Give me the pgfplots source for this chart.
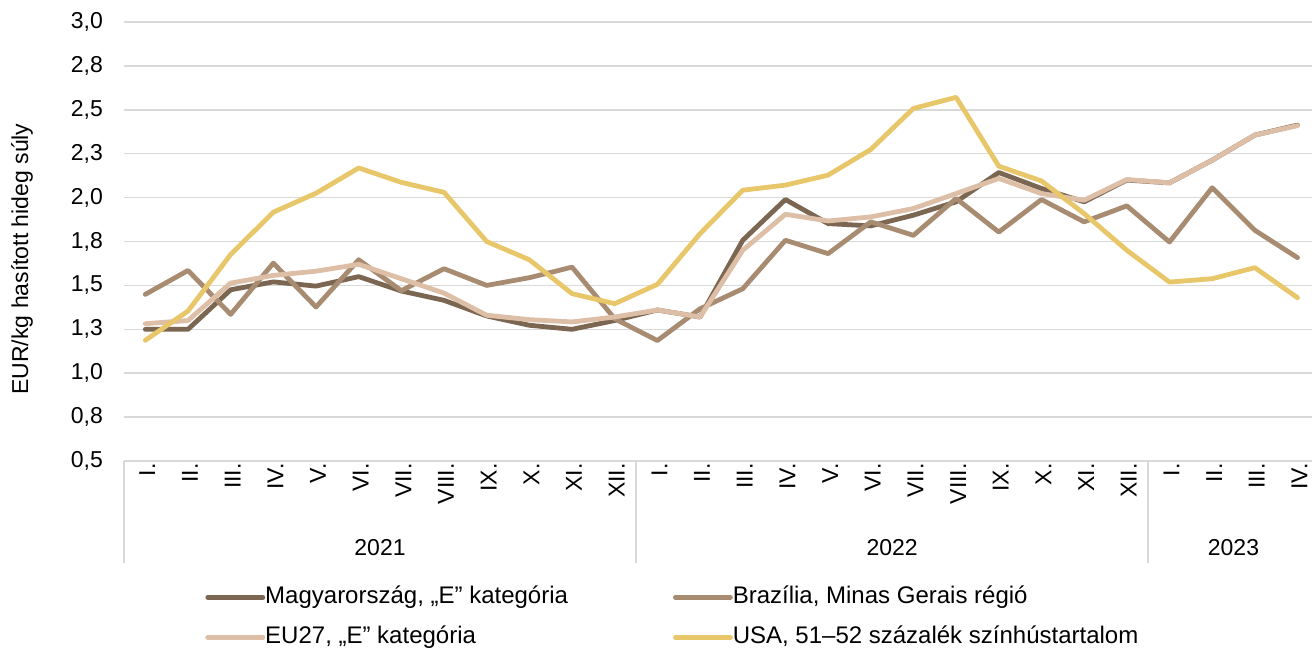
\documentclass[border=0pt]{standalone}
\usepackage{fontspec}
\setmainfont{Liberation Sans}
\usepackage{pgfplots}
\pgfplotsset{compat=1.18}
\definecolor{hungary}{HTML}{7B6652}
\definecolor{brazil}{HTML}{A88C72}
\definecolor{eu}{HTML}{DDBEA6}
\definecolor{usa}{HTML}{E8C66A}
\definecolor{gridgray}{HTML}{D9D9D9}

\begin{document}
\begin{tikzpicture}[font=\fontsize{11.5}{13.8}\selectfont]
\path[use as bounding box] (-62pt,-94.5pt) rectangle ++(656pt,325pt);
\begin{axis}[
  name=ax, at={(0,0)}, anchor=south west,
  scale only axis, width=594pt, height=219.5pt,
  xmin=-0.5, xmax=27.34, ymin=0.5, ymax=3.0,
  axis x line*=bottom, axis y line*=left,
  x axis line style={draw=gridgray, line width=0.75pt},
  y axis line style={draw=none},
  ymajorgrids, major grid style={gridgray, line width=0.75pt},
  major tick length=0pt,
  ytick={0.5,0.75,1,1.25,1.5,1.75,2,2.25,2.5,2.75,3},
  yticklabels={{0,5},{0,8},{1,0},{1,3},{1,5},{1,8},{2,0},{2,3},{2,5},{2,8},{3,0}},
  yticklabel style={xshift=-7pt},
  xtick={0,...,27},
  xticklabels={I.,II.,III.,IV.,V.,VI.,VII.,VIII.,IX.,X.,XI.,XII.,
               I.,II.,III.,IV.,V.,VI.,VII.,VIII.,IX.,X.,XI.,XII.,
               I.,II.,III.,IV.},
  xticklabel style={rotate=90, anchor=east, inner sep=1pt, yshift=-1pt},
  ylabel={EUR/kg hasított hideg súly},
  ylabel style={at={(axis description cs:-0.0859,0.46)}, anchor=center},
  clip=false,
  legend columns=2,
  legend style={draw=none, fill=none, at={(axis description cs:0.0682,-0.28)},
    anchor=north west, inner xsep=0pt, inner ysep=0pt, row sep=7pt,
    cells={anchor=west}, font=\fontsize{12}{14}\selectfont,
    nodes={inner xsep=0pt, inner ysep=1pt, text height=8.5pt, text depth=2.5pt},
    /tikz/every even column/.append style={column sep=52.5pt}},
  legend image code/.code={\draw[#1, line cap=round] (0pt,0pt) -- (27.5pt,0pt);},
  every axis plot/.append style={line width=2.4pt, line join=round, line cap=round, no marks},
]
\addplot[hungary] coordinates {
 (0,1.25) (1,1.25) (2,1.475) (3,1.52) (4,1.496) (5,1.55) (6,1.468) (7,1.415)
 (8,1.326) (9,1.273) (10,1.25) (11,1.30)
 (12,1.36) (13,1.32) (14,1.757) (15,1.989) (16,1.852) (17,1.839) (18,1.90)
 (19,1.976) (20,2.143) (21,2.052) (22,1.976) (23,2.10)
 (24,2.084) (25,2.213) (26,2.356) (27,2.413)};
\addlegendentry{Magyarország, „E” kategória}
\addplot[brazil] coordinates {
 (0,1.449) (1,1.585) (2,1.335) (3,1.627) (4,1.377) (5,1.646) (6,1.47) (7,1.595)
 (8,1.50) (9,1.544) (10,1.604) (11,1.31)
 (12,1.186) (13,1.367) (14,1.481) (15,1.757) (16,1.681) (17,1.862) (18,1.785)
 (19,1.995) (20,1.804) (21,1.989) (22,1.862) (23,1.953)
 (24,1.747) (25,2.056) (26,1.814) (27,1.658)};
\addlegendentry{Brazília, Minas Gerais régió}
\addplot[eu] coordinates {
 (0,1.282) (1,1.30) (2,1.513) (3,1.557) (4,1.581) (5,1.62) (6,1.538) (7,1.456)
 (8,1.33) (9,1.305) (10,1.292) (11,1.32)
 (12,1.36) (13,1.32) (14,1.70) (15,1.905) (16,1.867) (17,1.89) (18,1.938)
 (19,2.023) (20,2.109) (21,2.023) (22,1.985) (23,2.103)
 (24,2.084) (25,2.213) (26,2.356) (27,2.41)};
\addlegendentry{EU27, „E” kategória}
\addplot[usa] coordinates {
 (0,1.1875) (1,1.354) (2,1.676) (3,1.917) (4,2.025) (5,2.169) (6,2.087) (7,2.03)
 (8,1.75) (9,1.646) (10,1.453) (11,1.396)
 (12,1.506) (13,1.795) (14,2.042) (15,2.071) (16,2.128) (17,2.274) (18,2.508)
 (19,2.571) (20,2.179) (21,2.095) (22,1.909) (23,1.70)
 (24,1.519) (25,1.538) (26,1.601) (27,1.43)};
\addlegendentry{USA, 51–52 százalék színhústartalom}
% group separators and year labels below the month ticks
\draw[gridgray, line width=0.75pt] (axis cs:-0.5,0.5) -- ([yshift=-51pt]axis cs:-0.5,0.5);
\draw[gridgray, line width=0.75pt] (axis cs:11.5,0.5) -- ([yshift=-51pt]axis cs:11.5,0.5);
\draw[gridgray, line width=0.75pt] (axis cs:23.5,0.5) -- ([yshift=-51pt]axis cs:23.5,0.5);
\node[yshift=-43.5pt] at (axis cs:5.5,0.5) {2021};
\node[yshift=-43.5pt] at (axis cs:17.5,0.5) {2022};
\node[yshift=-43.5pt] at (axis cs:25.5,0.5) {2023};
\end{axis}
\end{tikzpicture}
\end{document}
